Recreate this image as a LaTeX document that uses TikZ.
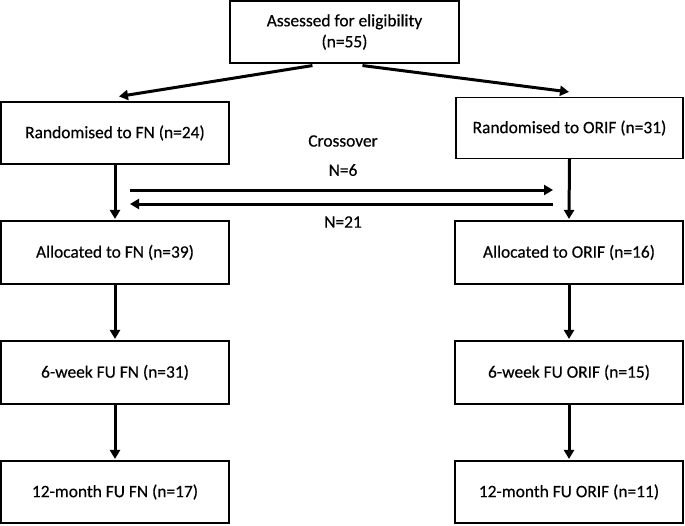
\documentclass[tikz,border=0pt]{standalone}
\usepackage{fontspec}
\setmainfont[FakeBold=0.4]{Carlito}
\usetikzlibrary{arrows.meta,calc}
\begin{document}
\begin{tikzpicture}[x=1pt,y=1pt,
  box/.style={draw=black,line width=1.1pt,minimum width=228pt,minimum height=62pt,inner sep=0pt,align=center,font=\fontsize{17.4}{21}\selectfont},
  lbl/.style={font=\fontsize{17.4}{20}\selectfont,inner sep=0pt},
  arr/.style={line width=3pt,-{Triangle[length=9pt,width=10pt]}}]
\useasboundingbox (0,0) rectangle (685,-525);
\node[box,minimum width=229pt] (top) at (344.5,-32) {Assessed for eligibility\\(n=55)};
\node[box] (rfn) at (115,-133) {Randomised to FN (n=24)};
\node[box,minimum width=227pt,minimum height=61pt] (rorif) at (569.5,-128) {Randomised to ORIF (n=31)};
\node[box,minimum height=63pt] (afn) at (115,-252.5) {Allocated to FN (n=39)};
\node[box,minimum height=63pt] (aorif) at (569,-252.5) {Allocated to ORIF (n=16)};
\node[box,minimum height=63pt] (wfn) at (115,-372.5) {6-week FU FN (n=31)};
\node[box,minimum height=63pt] (worif) at (569,-372.5) {6-week FU ORIF (n=15)};
\node[box] (mfn) at (115,-492) {12-month FU FN (n=17)};
\node[box] (morif) at (569,-492) {12-month FU ORIF (n=11)};
\node[lbl] (cross) at (343,-141) {Crossover};
\node[lbl] (n6) at (343,-170) {N=6};
\node[lbl] (n21) at (343,-222) {N=21};
\coordinate (tl) at ($(top.south west)+(83,-2)$);
\coordinate (tr) at ($(top.south west)+(133,-2)$);
\coordinate (cl1) at (130,-190);
\coordinate (cr1) at (553,-190);
\coordinate (cl2) at (130,-204);
\coordinate (cr2) at (553,-204);
\draw[arr] (tl) -- ($(rfn.north)+(4,5)$);
\draw[arr] (tr) -- ($(rorif.north)+(-0.5,5)$);
\draw[arr] (rfn.south) -- ($(afn.north)+(0,1.5)$);
\draw[arr] (rorif.south) -- ($(aorif.north)+(0,1.5)$);
\draw[arr] (afn.south) -- ($(wfn.north)+(0,1.5)$);
\draw[arr] (aorif.south) -- ($(worif.north)+(0,1.5)$);
\draw[arr] (wfn.south) -- ($(mfn.north)+(0,1.5)$);
\draw[arr] (worif.south) -- ($(morif.north)+(0,1.5)$);
\draw[arr] (cl1) -- (cr1);
\draw[arr] (cr2) -- (cl2);
\end{tikzpicture}
\end{document}
